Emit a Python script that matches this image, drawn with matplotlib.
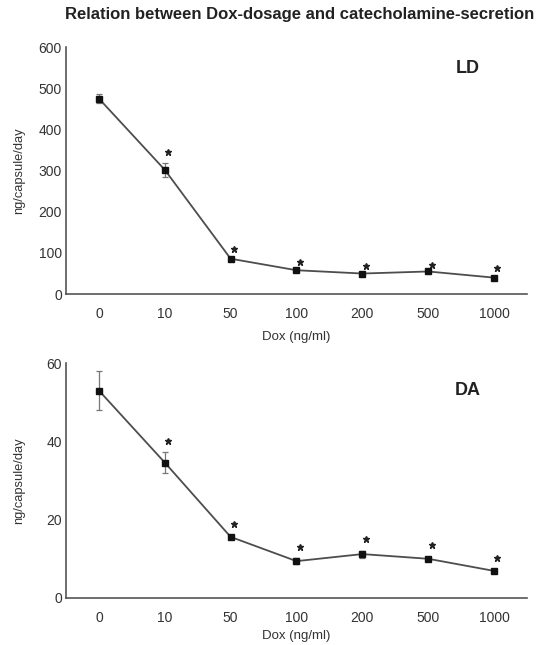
import matplotlib
matplotlib.use("Agg")
import matplotlib.pyplot as plt
import numpy as np

plt.rcParams['font.family'] = ['Liberation Sans', 'DejaVu Sans']

dose_labels = ["0", "10", "50", "100", "200", "500", "1000"]

ld_mean = [475, 302, 86, 58, 50, 55, 40]
ld_err = [10, 17, 4, 4, 3, 4, 3]
ld_star = [np.nan, 344, 109, 78, 68, 70, 64]

da_mean = [53.0, 34.6, 15.6, 9.4, 11.2, 10.0, 6.9]
da_err = [5.0, 2.7, 0.6, 0.8, 0.9, 0.4, 0.3]
da_star = [np.nan, 40.0, 18.9, 12.9, 15.1, 13.5, 10.2]

title = "Relation between Dox-dosage and catecholamine-secretion"

fig = plt.figure(figsize=(5.45, 6.45), dpi=100)
ax1 = fig.add_axes([0.121, 0.544, 0.846, 0.383])
ax2 = fig.add_axes([0.121, 0.073, 0.846, 0.364])

line_col = "#4d4d4d"
text_col = "#333333"

def draw(ax, mean, err, star, ylim, yticks, label, label_y, xlab_y):
    x = np.arange(len(dose_labels))
    ax.errorbar(x, mean, yerr=err, color=line_col, lw=1.3, ecolor="#777777",
                elinewidth=0.9, capsize=2.5, capthick=0.9,
                marker="s", ms=3.8, mfc="#111111", mec="#111111", zorder=3)
    ax.plot(x + 0.05, star, linestyle="none", marker="*", ms=4.5,
            color="#222222", zorder=3)
    ax.set_xlim(-0.5, 6.5)
    ax.set_ylim(*ylim)
    ax.set_yticks(yticks)
    ax.set_xticks(x)
    ax.set_xticklabels(dose_labels)
    for s in ("top", "right"):
        ax.spines[s].set_visible(False)
    for s in ("left", "bottom"):
        ax.spines[s].set_color("#555555")
        ax.spines[s].set_linewidth(1.2)
    ax.tick_params(axis="both", length=0, labelsize=10, colors=text_col)
    ax.tick_params(axis="x", pad=9.5)
    ax.tick_params(axis="y", pad=3)
    ax.set_ylabel("ng/capsule/day", fontsize=9.3, color=text_col)
    ax.yaxis.set_label_coords(-0.089, 0.5)
    ax.set_xlabel("Dox (ng/ml)", fontsize=9.5, color=text_col)
    ax.xaxis.set_label_coords(0.5, xlab_y)
    ax.text(0.872, label_y, label, transform=ax.transAxes, fontsize=13,
            fontweight="bold", color="#222222", ha="center", va="center")

draw(ax1, ld_mean, ld_err, ld_star, (0, 600), [0, 100, 200, 300, 400, 500, 600], "LD", 0.915, -0.15)
draw(ax2, da_mean, da_err, da_star, (0, 60), [0, 20, 40, 60], "DA", 0.885, -0.135)

fig.text(0.55, 0.977, title, ha="center", va="center", fontsize=12,
         fontweight="bold", color="#222222")

fig.savefig("out.png", dpi=100)
